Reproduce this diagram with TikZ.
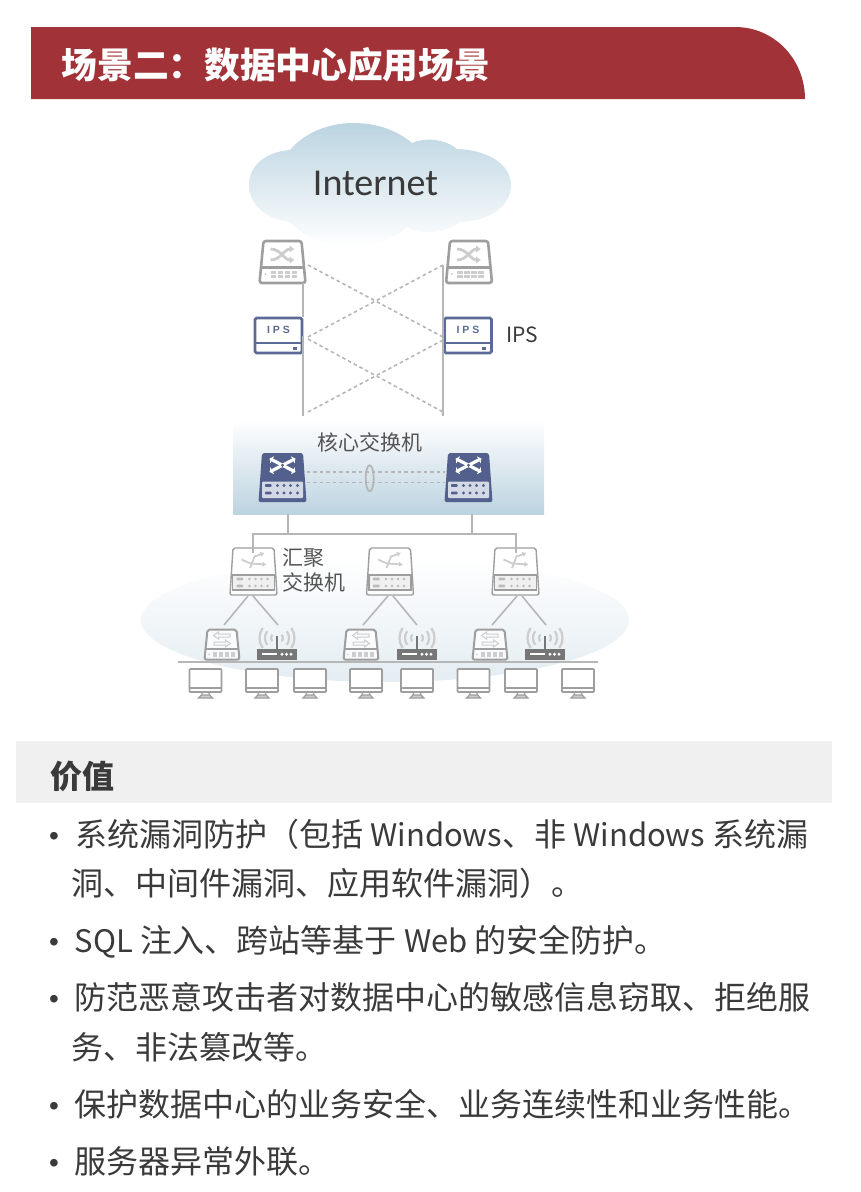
\documentclass[tikz,border=0pt]{standalone}
\usepackage{fontspec}
\setmainfont{Noto Sans CJK SC}
\newfontfamily\labelfont{Liberation Sans}
\newfontfamily\cloudfont{Carlito}
\usetikzlibrary{arrows.meta,calc}
\definecolor{headred}{RGB}{161,50,55}
\definecolor{cloudblue}{RGB}{187,212,225}
\definecolor{panelblue}{RGB}{188,211,224}
\definecolor{hazeblue}{RGB}{228,237,242}
\definecolor{barygray}{RGB}{240,240,240}
\definecolor{bodytxt}{RGB}{58,58,58}
\definecolor{labeltxt}{RGB}{85,85,85}
\definecolor{devgray}{RGB}{158,158,158}
\definecolor{palegray}{RGB}{205,205,205}
\definecolor{linkgray}{RGB}{182,182,182}
\definecolor{ipsblue}{RGB}{92,106,151}
\definecolor{coreblue}{RGB}{83,95,140}
\definecolor{corepanel}{RGB}{211,218,230}
\definecolor{radiogray}{RGB}{118,118,118}
\newcommand{\lat}[1]{{\fontsize{31pt}{38pt}\selectfont #1}}

\tikzset{
  devbox/.style={inner sep=0,outer sep=0,minimum width=#1},
  trunk/.style={draw=linkgray,line width=2pt},
  crosslink/.style={draw=linkgray,line width=1.6pt,dash pattern=on 3.5pt off 3pt},
  bodyline/.style={anchor=base west,inner sep=0,text=bodytxt,font=\fontsize{32pt}{38pt}\selectfont},
  bulletmark/.style={anchor=base west,inner sep=0,text=bodytxt,font=\labelfont\fontsize{28pt}{32pt}\selectfont},
  devlabel/.style={anchor=base west,inner sep=0,text=labeltxt,font=\fontsize{21pt}{25pt}\selectfont},
  pics/graysw/.style={code={
    \node[devbox=46pt,minimum height=42pt] (-n) at (0,0) {};
    \draw[devgray,fill=white,line width=2.6pt,rounded corners=2.5pt]
      (-19,-21) -- (19,-21) -- (23,21) -- (-23,21) -- cycle;
    \draw[devgray,line width=2.4pt] (-22,5.5) -- (22,5.5);
    \draw[palegray,line width=2.8pt,-{Latex[length=5pt,width=8pt]}] (-12,-13) to[out=0,in=180] (12,-2);
    \draw[palegray,line width=2.8pt,-{Latex[length=5pt,width=8pt]}] (-12,-2) to[out=0,in=180] (12,-13);
    \fill[palegray] (-17,12) circle (1.2pt);
    \foreach \dx in {-9,-2,5,12}{
      \fill[palegray] (\dx-2.7,9) rectangle (\dx+2.7,11.5);
      \fill[palegray] (\dx-2.7,13) rectangle (\dx+2.7,15.5);
    }
  }},
  pics/ipsbox/.style={code={
    \node[devbox=49pt,minimum height=37pt] (-n) at (0,0) {};
    \draw[ipsblue,fill=white,line width=2.8pt,rounded corners=1.5pt] (-23.5,-17.5) rectangle (23.5,17.5);
    \draw[ipsblue,line width=1.6pt] (-23.5,7.5) -- (23.5,7.5);
    \fill[ipsblue] (14,11) rectangle (18,14);
    \node[inner sep=0,text=ipsblue,font=\labelfont\bfseries\fontsize{10.5pt}{12pt}\selectfont] (-t) at (0,-5.5) {I\hspace{3pt}P\hspace{3pt}S};
  }},
  pics/coresw/.style={code={
    \node[devbox=48pt,minimum height=49pt] (-n) at (0,0) {};
    \fill[coreblue,rounded corners=2pt] (-20.5,-24.5) -- (20.5,-24.5) -- (24,24.5) -- (-24,24.5) -- cycle;
    \fill[corepanel,rounded corners=1pt] (-20.5,4) rectangle (20.5,20.5);
    \draw[white,line width=3.2pt,{Latex[length=3pt,width=9pt]}-{Latex[length=3pt,width=9pt]}] (-13,-19) -- (13,-5.5);
    \draw[white,line width=3.2pt,{Latex[length=3pt,width=9pt]}-{Latex[length=3pt,width=9pt]}] (-13,-5.5) -- (13,-19);
    \fill[coreblue] (0,-12.2) circle (1.6pt);
    \foreach \rowy in {8,15.5}{
      \fill[coreblue,rounded corners=.8pt] (-17.5,\rowy-1.4) rectangle (-11,\rowy+1.4);
      \foreach \dx in {-5,1.5,8,15} \fill[coreblue] (\dx,\rowy) circle (1.6pt);
    }
  }},
  pics/aggsw/.style={code={
    \node[devbox=47pt,minimum height=47pt] (-n) at (0,0) {};
    \draw[devgray,fill=white,fill opacity=.7,line width=1.4pt,rounded corners=2pt]
      (-20.5,-23.5) -- (20.5,-23.5) -- (23.5,23.5) -- (-23.5,23.5) -- cycle;
    \draw[devgray,fill=barygray,line width=1.8pt] (-21,3.5) rectangle (21,18.5);
    \draw[palegray,line width=1.8pt,-{Latex[length=4pt,width=5.5pt]}] (-12,-12) -- (-3,-8) -- (13,-7);
    \draw[palegray,line width=1.8pt,-{Latex[length=4pt,width=5.5pt]}] (-3.5,-3.5) -- (1,-15) -- (11,-18.5);
    \foreach \rowy in {7.5,14.5}{
      \fill[devgray!70,rounded corners=.7pt] (-17,\rowy-1.3) rectangle (-10.5,\rowy+1.3);
      \foreach \dx in {-4,2,8,14} \fill[devgray!70] (\dx,\rowy) circle (1.4pt);
    }
  }},
  pics/smallsw/.style={code={
    \node[devbox=36pt,minimum height=31pt] (-n) at (0,0) {};
    \draw[devgray,fill=white,fill opacity=.7,line width=2pt,rounded corners=2pt]
      (-14.5,-15) -- (14.5,-15) -- (17.5,15) -- (-17.5,15) -- cycle;
    \draw[devgray,line width=1.6pt] (-17,4.5) -- (17,4.5);
    \draw[palegray,line width=1pt] (-8.5,-9) -- (-3.5,-12.5) -- (-3.5,-10.5) -- (8,-10.5) -- (8,-7.5) -- (-3.5,-7.5) -- (-3.5,-5.5) -- cycle;
    \draw[palegray,line width=1pt] (8.5,-1) -- (3.5,-4.5) -- (3.5,-2.5) -- (-8,-2.5) -- (-8,.5) -- (3.5,.5) -- (3.5,2.5) -- cycle;
    \fill[palegray] (-13,10) circle (.9pt);
    \foreach \dx in {-7,-1,5,11}
      \fill[palegray] (\dx-2.2,7.5) rectangle (\dx+2.2,12.5);
  }},
  pics/radio/.style={code={
    \node[devbox=40pt,minimum height=32pt] (-n) at (0,0) {};
    \fill[radiogray] (-20,5) rectangle (20,16);
    \draw[radiogray,line width=2.4pt] (0,-8) -- (0,5);
    \fill[white] (-15,9.3) rectangle (0,11.3);
    \foreach \dx in {5,9.5,14} \fill[white] (\dx,10.3) circle (1.6pt);
    \foreach \rad in {6,12,17.5}{
      \draw[palegray,line width=2.2pt] (0,-6) ++(35:\rad) arc[start angle=35,end angle=-35,radius=\rad];
      \draw[palegray,line width=2.2pt] (0,-6) ++(145:\rad) arc[start angle=145,end angle=215,radius=\rad];
    }
  }},
  pics/monitor/.style={code={
    \node[devbox=33pt,minimum height=29pt] (-n) at (0,0) {};
    \draw[devgray,fill=white,line width=1.6pt,rounded corners=.8pt] (-16,-14.5) rectangle (16,8.5);
    \draw[devgray,line width=1.4pt] (-16,4.5) -- (16,4.5);
    \draw[devgray,line width=1.2pt] (-3,8.5) -- (-4,11.5) (3,8.5) -- (4,11.5);
    \draw[devgray,fill=palegray,line width=1.1pt] (-4,11.5) -- (4,11.5) -- (7,14.5) -- (-7,14.5) -- cycle;
  }},
}

\begin{document}
\begin{tikzpicture}[x=1pt,y=-1pt]
    \useasboundingbox (0,0) rectangle (860,1192);

    \fill[headred] (31,27) -- (735,27) .. controls (775,27) and (805,60) .. (805,99) -- (31,99) -- cycle;
    \node[anchor=base west,inner sep=0,text=white,font=\bfseries\fontsize{35.7pt}{40pt}\selectfont] (title) at (61.5,78) {场景二：数据中心应用场景};

    % cloud
    \shade[top color=cloudblue,bottom color=white]
      (290,150) .. controls (305,132) and (330,123) .. (353,123)
      .. controls (378,123) and (398,131) .. (412,143)
      .. controls (425,137) and (445,139) .. (457,149)
      .. controls (490,150) and (511,166) .. (511,185)
      .. controls (511,206) and (490,221) .. (460,222)
      .. controls (450,232) and (420,236) .. (407,227)
      .. controls (393,240) and (373,247) .. (353,247)
      .. controls (325,247) and (303,236) .. (290,222)
      .. controls (265,219) and (249,204) .. (249,185)
      .. controls (249,166) and (265,152) .. (290,150) -- cycle;
    \node[inner sep=0,text=bodytxt,font=\cloudfont\fontsize{38pt}{40pt}\selectfont] (inet) at (375.5,183) {Internet};

    \shade[top color=white,bottom color=hazeblue] (385,620) ellipse (244pt and 62pt);
    \shade[top color=white,bottom color=panelblue] (233,420) rectangle (544,514);

    \coordinate (lowl) at (303,416);
    \coordinate (lowr) at (443,416);
    \coordinate (upr) at (443,265);
    \coordinate (dla) at (308,265);
    \coordinate (dlb) at (308,337);
    \coordinate (dlc) at (308,339);
    \coordinate (dld) at (308,412);
    \coordinate (dra) at (443,265);
    \coordinate (drb) at (443,337);
    \coordinate (drc) at (443,340);
    \coordinate (drd) at (443,412);

    \pic (swl) at (282.5,262) {graysw};
    \pic (swr) at (469,262) {graysw};
    \pic (ipsl) at (278.5,335.5) {ipsbox};
    \pic (ipsr) at (468,335.5) {ipsbox};
    \node[anchor=base west,inner sep=0,text=bodytxt,font=\fontsize{21pt}{25pt}\selectfont] (ipslabel) at (506,342) {IPS};

    \draw[trunk] (ipsl-n.east |- swl-n.south) -- (ipsl-n.east |- ipsl-n.north);
    \draw[trunk] (ipsl-n.east) -- (lowl);
    \draw[trunk] (upr) -- (lowr);
    \draw[crosslink] (dla) -- (drb);
    \draw[crosslink] (dra) -- (dlb);
    \draw[crosslink] (dlc) -- (drd);
    \draw[crosslink] (drc) -- (dld);

    \node[devlabel,anchor=center] (corelabel) at (370,442) {核心交换机};
    \pic (corel) at (282.5,477.5) {coresw};
    \pic (corer) at (468.5,477.5) {coresw};
    \draw[crosslink] ($(corel-n.east)+(0,-5.5)$) -- ($(corer-n.west)+(0,-5.5)$);
    \draw[crosslink] ($(corel-n.east)+(0,5)$) -- ($(corer-n.west)+(0,5)$);
    \draw[linkgray,line width=1.8pt] (369.7,478.3) ellipse (4pt and 13pt);

    \pic (agl) at (253.5,571.5) {aggsw};
    \pic (agm) at (390,571.5) {aggsw};
    \pic (agr) at (515.5,571.5) {aggsw};
    \node[devlabel] (aglabela) at (282,565) {汇聚};
    \node[devlabel] (aglabelb) at (282,590) {交换机};

    \coordinate (tapl) at (288,514);
    \coordinate (tapr) at (472,514);
    \coordinate (busl) at (253,553);
    \coordinate (busr) at (516,553);
    \draw[trunk] (busl) -- (busl |- 0,534) -- (busr |- 0,534) -- (busr);
    \draw[trunk] (tapl) -- (tapl |- 0,534);
    \draw[trunk] (tapr) -- (tapr |- 0,534);

    \foreach \nm/\x in {sma/222,smb/361,smc/490}
      \pic (\nm) at (\x,644.5) {smallsw};
    \foreach \nm/\x in {raa/277,rab/417,rac/545}
      \pic (\nm) at (\x,644) {radio};

    \coordinate (aga) at (248,596);
    \coordinate (agb) at (253,596);
    \coordinate (agc) at (388,596);
    \coordinate (agd) at (393,596);
    \coordinate (age) at (517,596);
    \coordinate (agf) at (522,596);
    \coordinate (ena) at (224,625);
    \coordinate (enb) at (278,625);
    \coordinate (enc) at (363,625);
    \coordinate (end) at (417,625);
    \coordinate (ene) at (492,625);
    \coordinate (enf) at (546,625);
    \foreach \from/\to in {aga/ena,agb/enb,agc/enc,agd/end,age/ene,agf/enf}
      \draw[linkgray,line width=1.6pt] (\from) -- (\to);

    \coordinate (gnda) at (178,661.7);
    \coordinate (gndb) at (598,661.7);
    \draw[linkgray,line width=1.8pt] (gnda) -- (gndb);

    \foreach \nm/\x in {moa/205.5,mob/262,moc/310,mod/366,moe/417,mof/473.5,mog/521,moh/578}
      \pic (\nm) at (\x,683.5) {monitor};

    \fill[barygray] (16,741) rectangle (832,803);
    \node[anchor=base west,inner sep=0,text=bodytxt,font=\bfseries\fontsize{32pt}{38pt}\selectfont] (valhead) at (50,788) {价值};

    \foreach \nm/\y in {bua/846,bub/952,buc/1009,bud/1116,bue/1173}
      \node[bulletmark] (\nm) at (49,\y-.5) {•};
    \node[bodyline] (lna) at (75,846) {系统漏洞防护（包括 \lat{Windows}、非 \lat{Windows} 系统漏};
    \node[bodyline] (lnb) at (71,895) {洞、中间件漏洞、应用软件漏洞）。};
    \node[bodyline] (lnc) at (74.5,952) {\lat{SQL} 注入、跨站等基于\hspace{8pt}\lat{Web} 的安全防护。};
    \node[bodyline] (lnd) at (74,1009) {防范恶意攻击者对数据中心的敏感信息窃取、拒绝服};
    \node[bodyline] (lne) at (71,1059) {务、非法篡改等。};
    \node[bodyline] (lnf) at (74,1116) {保护数据中心的业务安全、业务连续性和业务性能。};
    \node[bodyline] (lng) at (74,1173) {服务器异常外联。};
\end{tikzpicture}
\end{document}
